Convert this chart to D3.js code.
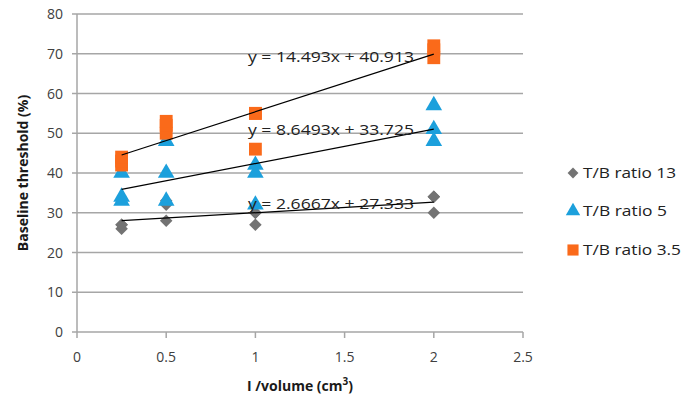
<!DOCTYPE html>
<html><head><meta charset="utf-8">
<script src="https://cdn.jsdelivr.net/npm/d3@7"></script>
<style>body{margin:0;background:#fff}svg{display:block}</style>
</head><body><svg id="c" width="682" height="402" font-family="'Open Sans','Liberation Sans',sans-serif"></svg>
<script>
const xValues = [0.25,0.25,0.25,0.5,0.5,0.5,1,1,1,2,2,2];
const ratio13 = [26,27,27,28,32,33,27,30,30,30,34,34];
const ratio5 = [33,34,40,33,40,48,32,40,42,48,51,57];
const ratio35 = [42,43,44,50,52,53,46,55,55,69,71,72];
const seriesNames = ["T/B ratio 13","T/B ratio 5","T/B ratio 3.5"];
const trendSlopes = [2.6667,8.6493,14.493];
const trendIntercepts = [27.333,33.725,40.913];
const trendLabels = ["y = 2.6667x + 27.333","y = 8.6493x + 33.725","y = 14.493x + 40.913"];
const xTicks = [0,0.5,1,1.5,2,2.5];
const yTicks = [0,10,20,30,40,50,60,70,80];

const colors = ["#737373","#1ca0dc","#fa6a1a"];
const shapes = [d3.symbolDiamond2, d3.symbolTriangle, d3.symbolSquare];
const sizes = [100,120,165];
const series = [ratio13, ratio5, ratio35];

const svg = d3.select("#c");
const x = d3.scaleLinear().domain([0,2.5]).range([77,523]);
const y = d3.scaleLinear().domain([0,80]).range([332,14]);

svg.append("g").selectAll("line").data(yTicks).join("line")
  .attr("x1",72).attr("x2",523).attr("y1",d=>y(d)).attr("y2",d=>y(d))
  .attr("stroke","#a6a6a6").attr("stroke-width",1.5);
svg.append("line").attr("x1",77).attr("x2",77).attr("y1",14).attr("y2",332).attr("stroke","#a6a6a6").attr("stroke-width",1.5);
svg.append("g").selectAll("line").data(xTicks).join("line")
  .attr("x1",d=>x(d)).attr("x2",d=>x(d)).attr("y1",332).attr("y2",338)
  .attr("stroke","#a6a6a6").attr("stroke-width",1.5);

svg.append("g").selectAll("text").data(yTicks).join("text")
  .attr("x",63).attr("y",d=>y(d)+5).attr("text-anchor","end")
  .attr("font-size",14).attr("fill","#404040").text(d=>d);
svg.append("g").selectAll("text").data(xTicks).join("text")
  .attr("x",d=>x(d)).attr("y",362).attr("text-anchor","middle")
  .attr("font-size",14).attr("fill","#404040").text(d=>d);

const xt = svg.append("text").attr("x",300).attr("y",391).attr("text-anchor","middle")
  .attr("font-size",14).attr("font-weight","bold").attr("fill","#1a1a1a");
xt.append("tspan").text("I /volume (cm");
xt.append("tspan").attr("font-size",10).attr("dy",-6).text("3");
xt.append("tspan").attr("dy",6).text(")");

svg.append("text").attr("transform","translate(28,173) rotate(-90)").attr("text-anchor","middle")
  .attr("font-size",14).attr("font-weight","bold").attr("fill","#1a1a1a").text("Baseline threshold (%)");

series.forEach((vals,i)=>{
  svg.append("g").selectAll("path").data(vals).join("path")
    .attr("transform",(d,j)=>`translate(${x(xValues[j])},${y(d)})`)
    .attr("d",d3.symbol().type(shapes[i]).size(sizes[i])())
    .attr("fill",colors[i]);
});

trendSlopes.forEach((m,i)=>{
  const b = trendIntercepts[i];
  svg.append("line").attr("x1",x(0.25)).attr("y1",y(m*0.25+b))
    .attr("x2",x(2)).attr("y2",y(m*2+b)).attr("stroke","#000").attr("stroke-width",1.2);
});
const labelY = [209,135,62];
trendLabels.forEach((t,i)=>{
  svg.append("text").attr("x",248).attr("y",labelY[i]).attr("font-size",14)
    .attr("textLength",166).attr("lengthAdjust","spacingAndGlyphs")
    .attr("fill","#222").text(t);
});

const legY = [173,211,250];
const legW = [93,84,98];
seriesNames.forEach((n,i)=>{
  svg.append("path").attr("transform",`translate(573,${legY[i]})`)
    .attr("d",d3.symbol().type(shapes[i]).size(sizes[i]*0.75)()).attr("fill",colors[i]);
  svg.append("text").attr("x",583).attr("y",legY[i]+5).attr("font-size",14)
    .attr("textLength",legW[i]).attr("lengthAdjust","spacingAndGlyphs")
    .attr("fill","#222").text(n);
});
</script></body></html>
